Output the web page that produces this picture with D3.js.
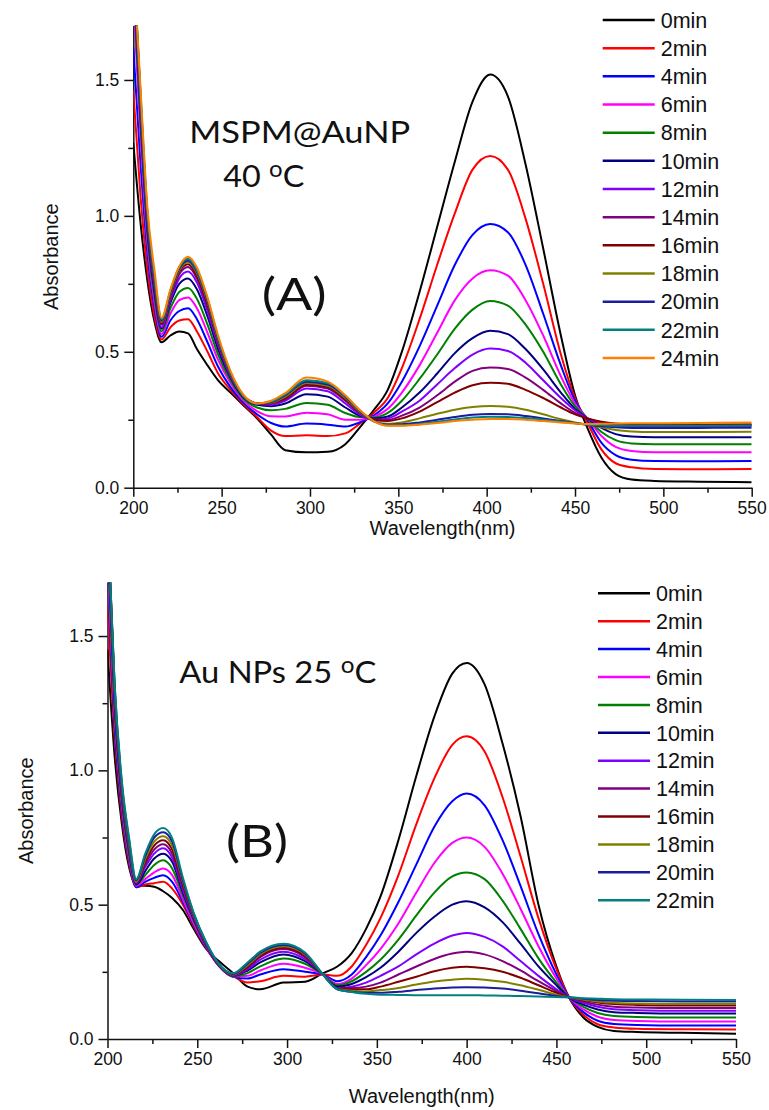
<!DOCTYPE html>
<html>
<head>
<meta charset="utf-8">
<script src="https://cdn.jsdelivr.net/npm/d3@7"></script>
<style>
  body { margin: 0; background: #fff; }
  text { font-family: "Liberation Sans", Arial, sans-serif; fill: #111; }
  .note { font-family: Lato, "Open Sans", sans-serif; }
</style>
</head>
<body>
<svg id="chart" width="769" height="1110"></svg>
<script>
// ---- data ----
const timeLabelsA = ['0min','2min','4min','6min','8min','10min','12min','14min','16min','18min','20min','22min','24min'];
const timeLabelsB = ['0min','2min','4min','6min','8min','10min','12min','14min','16min','18min','20min','22min'];
const lineColors = ['#000000','#ff0000','#0000ff','#ff00ff','#008000','#000080','#8000ff','#800080','#800000','#808000','#1c1c9c','#008080','#ff8000'];

const xTicks = [200, 250, 300, 350, 400, 450, 500, 550];
const xMinorTicks = [225, 275, 325, 375, 425, 475, 525];
const yTicks = [0, 0.5, 1.0, 1.5];
const yMinorTicks = [0.25, 0.75, 1.25];

// (A) MSPM@AuNP 40 oC
const wavelengthsA = [200,204,208,212,216,221,226,231,236,242,248,255,262,270,278,286,298,310,320,328,336,344,352,362,372,382,392,402,412,422,432,442,450,457,465,473,482,495,520,550];
const a00 = [1.27,0.98,0.76,0.61,0.535,0.56,0.575,0.568,0.51,0.45,0.395,0.35,0.305,0.255,0.195,0.138,0.13,0.132,0.16,0.22,0.285,0.36,0.5,0.72,0.96,1.2,1.42,1.52,1.44,1.19,0.88,0.56,0.34,0.22,0.11,0.05,0.03,0.025,0.022,0.02];
const a02 = [1.46,1.08,0.8,0.63,0.545,0.59,0.615,0.62,0.575,0.5,0.42,0.36,0.31,0.26,0.21,0.19,0.193,0.19,0.2,0.235,0.275,0.33,0.44,0.62,0.82,1.01,1.17,1.22,1.17,0.99,0.75,0.49,0.33,0.24,0.14,0.09,0.075,0.069,0.068,0.069];
const a04 = [1.62,1.2,0.86,0.66,0.555,0.615,0.65,0.66,0.62,0.535,0.445,0.37,0.315,0.27,0.238,0.225,0.236,0.232,0.225,0.24,0.265,0.31,0.39,0.52,0.67,0.82,0.93,0.97,0.94,0.82,0.64,0.45,0.32,0.25,0.165,0.12,0.103,0.098,0.097,0.098];
const a06 = [1.8,1.3,0.9,0.68,0.565,0.64,0.69,0.7,0.66,0.57,0.47,0.385,0.322,0.282,0.263,0.262,0.276,0.27,0.25,0.25,0.26,0.29,0.35,0.45,0.57,0.69,0.77,0.8,0.78,0.69,0.56,0.41,0.31,0.255,0.19,0.15,0.135,0.13,0.13,0.13];
const a08 = [1.85,1.35,0.93,0.7,0.575,0.66,0.72,0.735,0.695,0.6,0.49,0.395,0.33,0.295,0.285,0.29,0.312,0.305,0.275,0.26,0.258,0.275,0.32,0.4,0.49,0.585,0.655,0.687,0.67,0.6,0.5,0.38,0.3,0.255,0.205,0.175,0.163,0.16,0.16,0.16];
const a10 = [1.9,1.38,0.95,0.72,0.585,0.68,0.75,0.77,0.73,0.63,0.51,0.405,0.335,0.305,0.3,0.31,0.344,0.335,0.295,0.265,0.255,0.262,0.295,0.35,0.42,0.495,0.55,0.577,0.565,0.51,0.435,0.35,0.29,0.255,0.22,0.197,0.188,0.186,0.186,0.186];
const a12 = [1.92,1.4,0.97,0.74,0.59,0.69,0.77,0.795,0.755,0.65,0.525,0.41,0.34,0.31,0.305,0.32,0.365,0.355,0.31,0.27,0.25,0.255,0.28,0.32,0.38,0.44,0.49,0.512,0.503,0.46,0.395,0.33,0.285,0.255,0.232,0.225,0.225,0.225,0.225,0.226];
const a14 = [1.95,1.42,0.98,0.75,0.6,0.7,0.785,0.812,0.77,0.665,0.535,0.415,0.34,0.31,0.31,0.325,0.375,0.365,0.32,0.275,0.25,0.25,0.265,0.295,0.34,0.39,0.43,0.442,0.437,0.405,0.36,0.31,0.275,0.255,0.24,0.232,0.23,0.23,0.23,0.231];
const a16 = [1.95,1.43,0.99,0.76,0.605,0.71,0.795,0.822,0.78,0.675,0.54,0.418,0.34,0.31,0.312,0.33,0.38,0.37,0.325,0.28,0.25,0.245,0.255,0.28,0.315,0.35,0.377,0.386,0.382,0.36,0.33,0.295,0.27,0.255,0.243,0.236,0.233,0.232,0.232,0.233];
const a18 = [1.95,1.44,1.0,0.77,0.61,0.715,0.8,0.83,0.79,0.685,0.545,0.42,0.34,0.31,0.313,0.335,0.385,0.375,0.33,0.28,0.245,0.235,0.24,0.255,0.272,0.287,0.297,0.301,0.298,0.287,0.27,0.252,0.24,0.232,0.222,0.212,0.207,0.205,0.205,0.206];
const a20 = [1.95,1.45,1.0,0.775,0.615,0.72,0.805,0.836,0.795,0.69,0.55,0.423,0.34,0.31,0.315,0.34,0.39,0.38,0.335,0.283,0.245,0.232,0.233,0.24,0.25,0.26,0.268,0.271,0.27,0.264,0.255,0.245,0.238,0.232,0.226,0.222,0.22,0.22,0.22,0.221];
const a22 = [1.95,1.46,1.01,0.78,0.62,0.725,0.81,0.842,0.8,0.695,0.553,0.425,0.34,0.31,0.317,0.343,0.395,0.385,0.338,0.285,0.245,0.23,0.23,0.235,0.243,0.251,0.258,0.261,0.26,0.256,0.25,0.243,0.237,0.232,0.23,0.228,0.228,0.228,0.228,0.229];
const a24 = [1.95,1.48,1.03,0.8,0.625,0.73,0.815,0.85,0.81,0.7,0.56,0.43,0.345,0.31,0.32,0.348,0.405,0.39,0.34,0.287,0.245,0.228,0.228,0.232,0.238,0.245,0.25,0.253,0.253,0.25,0.245,0.24,0.236,0.234,0.235,0.236,0.237,0.237,0.238,0.24];

// (B) Au NPs 25 oC
const wavelengthsB = [200,204,208,212,216,221,226,231,236,242,248,255,262,270,278,285,298,310,320,328,336,344,352,362,372,382,392,400,410,420,430,440,450,457,465,473,482,495,520,550];
const b00 = [1.45,1.05,0.8,0.64,0.57,0.57,0.567,0.55,0.525,0.48,0.41,0.335,0.29,0.245,0.195,0.185,0.21,0.213,0.245,0.27,0.32,0.41,0.53,0.74,0.98,1.2,1.36,1.4,1.32,1.1,0.83,0.5,0.27,0.155,0.08,0.045,0.03,0.026,0.023,0.02];
const b02 = [1.62,1.12,0.83,0.655,0.565,0.575,0.58,0.585,0.56,0.5,0.42,0.338,0.275,0.235,0.21,0.215,0.235,0.232,0.24,0.235,0.27,0.35,0.45,0.61,0.8,0.97,1.095,1.127,1.07,0.9,0.68,0.45,0.26,0.155,0.09,0.055,0.043,0.038,0.036,0.035];
const b04 = [1.75,1.16,0.85,0.665,0.565,0.585,0.6,0.61,0.585,0.51,0.425,0.34,0.272,0.232,0.225,0.24,0.26,0.25,0.24,0.215,0.24,0.305,0.385,0.51,0.65,0.79,0.885,0.914,0.87,0.74,0.57,0.39,0.24,0.155,0.1,0.068,0.056,0.052,0.05,0.05];
const b06 = [1.8,1.2,0.87,0.675,0.57,0.595,0.62,0.635,0.61,0.52,0.43,0.343,0.272,0.232,0.235,0.255,0.28,0.265,0.24,0.205,0.225,0.275,0.335,0.43,0.545,0.655,0.73,0.75,0.715,0.615,0.485,0.345,0.225,0.155,0.11,0.083,0.071,0.067,0.065,0.065];
const b08 = [1.85,1.22,0.88,0.685,0.575,0.61,0.648,0.665,0.635,0.535,0.44,0.346,0.273,0.233,0.245,0.27,0.3,0.28,0.24,0.2,0.215,0.25,0.295,0.37,0.46,0.545,0.605,0.62,0.595,0.515,0.41,0.3,0.21,0.155,0.12,0.097,0.086,0.082,0.08,0.08];
const b10 = [1.9,1.25,0.9,0.7,0.575,0.625,0.672,0.69,0.66,0.545,0.445,0.348,0.274,0.235,0.255,0.285,0.315,0.29,0.24,0.195,0.205,0.23,0.265,0.325,0.395,0.455,0.5,0.513,0.49,0.435,0.355,0.27,0.2,0.155,0.128,0.11,0.1,0.097,0.095,0.095];
const b12 = [1.9,1.27,0.91,0.71,0.58,0.64,0.69,0.71,0.675,0.555,0.45,0.35,0.275,0.236,0.26,0.295,0.325,0.297,0.24,0.19,0.195,0.21,0.235,0.27,0.315,0.355,0.385,0.395,0.38,0.345,0.29,0.235,0.185,0.155,0.135,0.12,0.111,0.107,0.105,0.105];
const b14 = [1.95,1.28,0.92,0.72,0.58,0.65,0.705,0.725,0.69,0.565,0.455,0.352,0.276,0.238,0.265,0.305,0.335,0.305,0.24,0.19,0.19,0.195,0.21,0.24,0.27,0.298,0.318,0.325,0.315,0.29,0.255,0.215,0.178,0.155,0.14,0.128,0.12,0.117,0.115,0.115];
const b16 = [1.95,1.29,0.93,0.725,0.585,0.66,0.72,0.74,0.705,0.575,0.46,0.354,0.277,0.24,0.27,0.31,0.34,0.31,0.24,0.188,0.185,0.185,0.195,0.213,0.232,0.252,0.265,0.269,0.263,0.25,0.228,0.2,0.172,0.155,0.145,0.136,0.13,0.127,0.125,0.125];
const b18 = [1.95,1.3,0.94,0.73,0.585,0.67,0.735,0.755,0.72,0.585,0.463,0.356,0.278,0.24,0.275,0.315,0.345,0.315,0.24,0.186,0.18,0.177,0.182,0.19,0.203,0.214,0.221,0.224,0.221,0.213,0.2,0.183,0.165,0.155,0.147,0.14,0.135,0.132,0.13,0.13];
const b20 = [1.95,1.31,0.95,0.74,0.59,0.68,0.75,0.77,0.735,0.59,0.467,0.358,0.279,0.242,0.28,0.32,0.35,0.318,0.24,0.185,0.176,0.172,0.172,0.176,0.182,0.188,0.192,0.193,0.192,0.188,0.18,0.17,0.16,0.155,0.15,0.145,0.142,0.141,0.14,0.14];
const b22 = [1.95,1.32,0.96,0.75,0.595,0.69,0.762,0.785,0.748,0.6,0.47,0.36,0.28,0.245,0.285,0.325,0.355,0.322,0.24,0.185,0.175,0.168,0.165,0.164,0.163,0.163,0.163,0.163,0.162,0.161,0.16,0.158,0.156,0.155,0.152,0.15,0.148,0.147,0.146,0.145];

const seriesA = [a00, a02, a04, a06, a08, a10, a12, a14, a16, a18, a20, a22, a24];
const seriesB = [b00, b02, b04, b06, b08, b10, b12, b14, b16, b18, b20, b22];

const svg = d3.select('#chart');

function drawPanel(p) {
  const x = d3.scaleLinear().domain([200, 550]).range([p.left, p.right]);
  const y = d3.scaleLinear().domain([0, 1.7]).range([p.bottom, p.top]);
  const g = svg.append('g');

  // axes (left + bottom only)
  const styleAxis = a => {
    a.selectAll('line').attr('stroke', '#111').attr('stroke-width', 1.5);
    a.select('.domain').attr('stroke', '#111').attr('stroke-width', 1.5);
    a.selectAll('text').attr('font-size', 17.5).attr('fill', '#111')
      .attr('font-family', '"Liberation Sans", Arial, sans-serif');
  };

  g.append('g').attr('transform', `translate(0,${p.bottom})`)
    .call(d3.axisBottom(x).tickValues(xTicks).tickSize(9).tickSizeOuter(0).tickPadding(5))
    .call(styleAxis);
  g.append('g').attr('transform', `translate(0,${p.bottom})`)
    .call(d3.axisBottom(x).tickValues(xMinorTicks).tickSize(5).tickFormat(''))
    .call(a => a.select('.domain').remove())
    .call(styleAxis);

  g.append('g').attr('transform', `translate(${p.left},0)`)
    .call(d3.axisLeft(y).tickValues(yTicks).tickSize(9).tickSizeOuter(0).tickPadding(5).tickFormat(d3.format('.1f')))
    .call(styleAxis);
  g.append('g').attr('transform', `translate(${p.left},0)`)
    .call(d3.axisLeft(y).tickValues(yMinorTicks).tickSize(5).tickFormat(''))
    .call(a => a.select('.domain').remove())
    .call(styleAxis);

  // axis titles
  g.append('text')
    .attr('x', (p.left + p.right) / 2).attr('y', p.xTitleY)
    .attr('text-anchor', 'middle').attr('font-size', 20)
    .text('Wavelength(nm)');
  g.append('text')
    .attr('transform', `translate(${p.yTitleX},${(p.top + p.bottom) / 2}) rotate(-90)`)
    .attr('text-anchor', 'middle').attr('font-size', 20)
    .text('Absorbance');

  // spectra, clipped to the plot frame
  svg.append('clipPath').attr('id', 'clip-' + p.id)
    .append('rect')
    .attr('x', p.left).attr('y', p.top)
    .attr('width', p.right - p.left).attr('height', p.bottom - p.top);

  const line = d3.line()
    .x(d => x(d[0]))
    .y(d => y(d[1]))
    .curve(d3.curveMonotoneX);

  g.append('g').attr('clip-path', `url(#clip-${p.id})`)
    .selectAll('path')
    .data(p.series)
    .join('path')
    .attr('d', s => line(p.wl.map((w, i) => [w, s[i]])))
    .attr('fill', 'none')
    .attr('stroke', (s, i) => lineColors[i])
    .attr('stroke-width', 2);

  // legend
  const lg = g.append('g');
  p.labels.forEach((lab, i) => {
    const cy = p.legY + i * p.legGap;
    lg.append('line')
      .attr('x1', p.legX).attr('x2', p.legX + 52)
      .attr('y1', cy).attr('y2', cy)
      .attr('stroke', lineColors[i]).attr('stroke-width', 2.5);
    lg.append('text')
      .attr('x', p.legX + 58).attr('y', cy + 7.7)
      .attr('font-size', 21.5)
      .text(lab);
  });

  p.notes(g);
}

function degreeText(g, x, y, prefix, width) {
  const t = g.append('text').attr('class', 'note')
    .attr('x', x).attr('y', y).attr('font-size', 31)
    .attr('textLength', width).attr('lengthAdjust', 'spacingAndGlyphs');
  t.append('tspan').text(prefix);
  t.append('tspan').attr('dy', -10.5).attr('font-size', 23).text('o');
  t.append('tspan').attr('dy', 10.5).text('C');
}

drawPanel({
  id: 'a', left: 133.3, right: 751.7, top: 25.6, bottom: 487.7,
  wl: wavelengthsA, series: seriesA, labels: timeLabelsA,
  xTitleY: 535, yTitleX: 58,
  legX: 602.7, legY: 20, legGap: 28.17,
  notes: g => {
    g.append('text').attr('class', 'note')
      .attr('x', 189.3).attr('y', 142.7).attr('font-size', 31)
      .attr('textLength', 221).attr('lengthAdjust', 'spacingAndGlyphs')
      .text('MSPM@AuNP');
    degreeText(g, 223.3, 187.3, '40 ', 81);
    g.append('text').attr('class', 'note')
      .attr('x', 261.7).attr('y', 310).attr('font-size', 45)
      .attr('textLength', 65).attr('lengthAdjust', 'spacingAndGlyphs')
      .text('(A)');
  }
});

drawPanel({
  id: 'b', left: 107.5, right: 736, top: 582.3, bottom: 1039,
  wl: wavelengthsB, series: seriesB, labels: timeLabelsB,
  xTitleY: 1103, yTitleX: 33,
  legX: 598, legY: 593.3, legGap: 27.9,
  notes: g => {
    degreeText(g, 179.3, 683.3, 'Au NPs 25 ', 197);
    g.append('text').attr('class', 'note')
      .attr('x', 226).attr('y', 856.7).attr('font-size', 45)
      .attr('textLength', 62).attr('lengthAdjust', 'spacingAndGlyphs')
      .text('(B)');
  }
});
</script>
</body>
</html>
